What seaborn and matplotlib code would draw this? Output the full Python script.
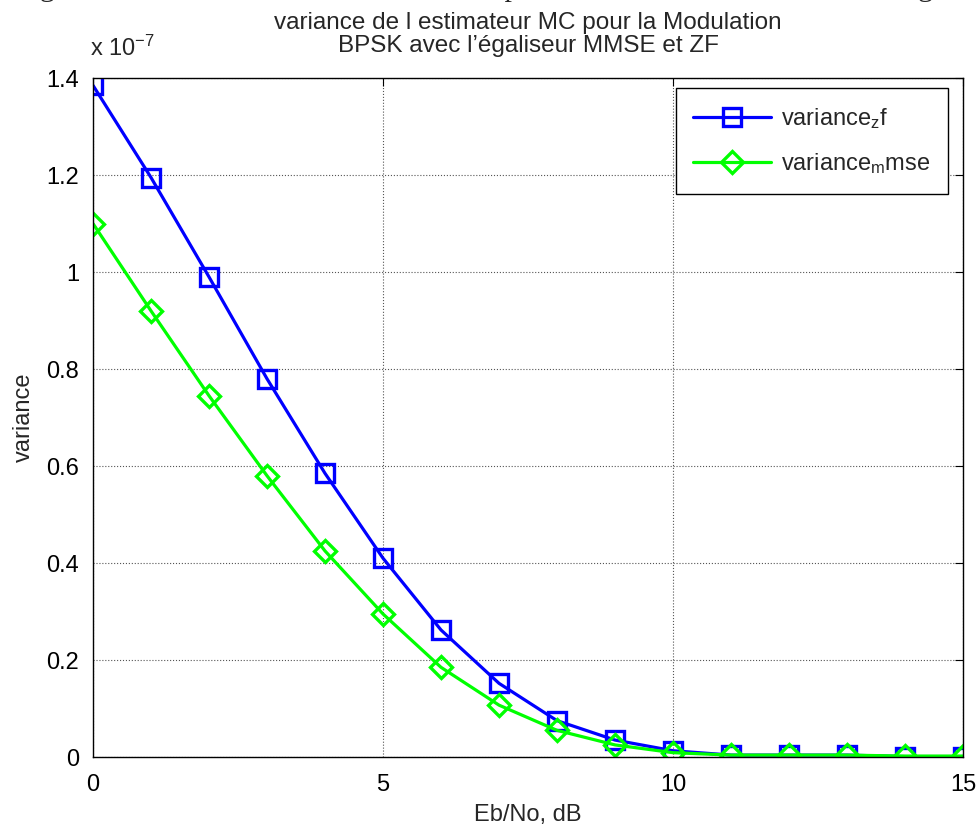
import numpy as np
import pandas as pd
import matplotlib
matplotlib.use("Agg")
import matplotlib.pyplot as plt
import seaborn as sns

# donnees (variance en unites de 1e-7)
ebno = list(range(0, 16))
var_zf = [1.385, 1.195, 0.99, 0.78, 0.585, 0.41, 0.262, 0.152, 0.075, 0.035,
          0.013, 0.004, 0.004, 0.004, 0.001, 0.001]
var_mmse = [1.10, 0.92, 0.745, 0.58, 0.425, 0.295, 0.185, 0.107, 0.055, 0.025,
            0.009, 0.004, 0.004, 0.004, 0.002, 0.002]
xticks = [0, 5, 10, 15]
yticks = [0, 0.2, 0.4, 0.6, 0.8, 1.0, 1.2, 1.4]
ytick_labels = ["0", "0.2", "0.4", "0.6", "0.8", "1", "1.2", "1.4"]

sns.set_style("white")
plt.rcParams['font.family'] = ['Liberation Sans', 'DejaVu Sans']
plt.rcParams['mathtext.fontset'] = 'custom'
plt.rcParams['mathtext.rm'] = 'Liberation Sans'
plt.rcParams['mathtext.it'] = 'Liberation Sans'

df = pd.DataFrame({'ebno': ebno, 'zf': var_zf, 'mmse': var_mmse})

fig = plt.figure(figsize=(9.78, 8.31), dpi=100)
ax = fig.add_axes([0.0951, 0.089, 0.8896, 0.817])

sns.lineplot(data=df, x='ebno', y='zf', ax=ax, color='#0000ff', linewidth=2.3,
             marker='s', markersize=12.5, markerfacecolor='none',
             markeredgecolor='#0000ff', markeredgewidth=2.4,
             label='variance$_z$f')
sns.lineplot(data=df, x='ebno', y='mmse', ax=ax, color='#00ff00', linewidth=2.3,
             marker='D', markersize=11, markerfacecolor='none',
             markeredgecolor='#00ff00', markeredgewidth=2.4,
             label='variance$_m$mse')

ax.set_xlim(0, 15)
ax.set_ylim(0, 1.4)
ax.set_xticks(xticks)
ax.set_yticks(yticks)
ax.set_yticklabels(ytick_labels)
ax.tick_params(direction='in', length=6, width=0.8, top=True, right=True,
               labelsize=17, colors='black')
ax.tick_params(axis='x', pad=12)
ax.tick_params(axis='y', pad=10)
ax.grid(True, linestyle=':', color='#555555', linewidth=0.8)
for s in ax.spines.values():
    s.set_color('black')
    s.set_linewidth(1.0)

ax.set_xlabel('Eb/No, dB', fontsize=17, labelpad=6)
ax.set_ylabel('variance', fontsize=17, labelpad=8)
ax.set_title("variance de l estimateur MC pour la Modulation\nBPSK avec l\u2019\u00e9galiseur MMSE et ZF",
             fontsize=17.5, linespacing=1.05, pad=19)
ax.text(-0.003, 1.025, 'x 10$^{-7}$', transform=ax.transAxes, fontsize=17,
        ha='left', va='bottom')

leg = ax.legend(loc='upper right', bbox_to_anchor=(0.9828, 0.985), fontsize=17,
                fancybox=False, framealpha=1, edgecolor='black',
                handlelength=3.3, handletextpad=0.4, borderpad=0.75,
                labelspacing=0.85, borderaxespad=0)
leg.get_frame().set_linewidth(1.0)

# texte de la page coupe en haut
fig.text(0.015, 1.005, "Figure 3.3: Variance de l\u2019estimateur MC pour la Modulation BPSK avec l\u2019\u00e9galiseur",
         fontsize=21.5, family=['Liberation Serif'], ha='left', va='baseline')

fig.savefig('out.png', dpi=100)
